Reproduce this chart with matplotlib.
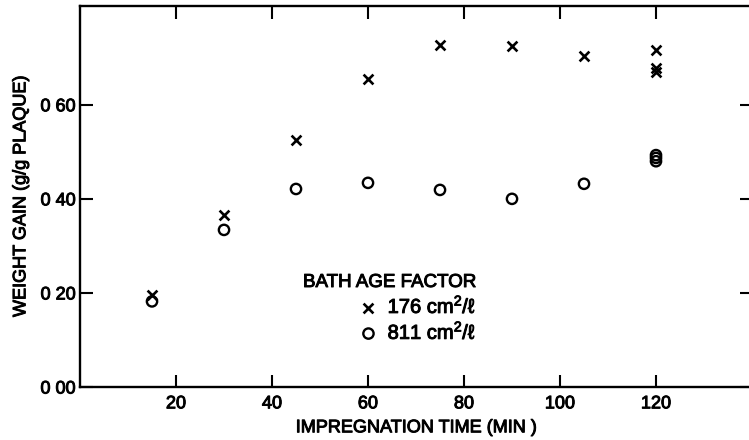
import matplotlib
matplotlib.use("Agg")
import matplotlib.pyplot as plt
import matplotlib.patheffects as pe

# Data
time_176 = [15, 30, 45, 60, 75, 90, 105, 120, 120, 120]
gain_176 = [0.195, 0.366, 0.526, 0.655, 0.728, 0.724, 0.703, 0.717, 0.679, 0.670]
time_811 = [15, 30, 45, 60, 75, 90, 105, 120, 120, 120]
gain_811 = [0.182, 0.334, 0.421, 0.434, 0.419, 0.400, 0.432, 0.493, 0.487, 0.480]

xticks = [20, 40, 60, 80, 100, 120]
yticks = [0.0, 0.2, 0.4, 0.6]
ytick_labels = ["0 00", "0 20", "0 40", "0 60"]

plt.rcParams['font.family'] = ['Liberation Sans', 'DejaVu Sans']
plt.rcParams['mathtext.fontset'] = 'custom'
plt.rcParams['mathtext.rm'] = 'Liberation Sans'
plt.rcParams['mathtext.it'] = 'Liberation Sans'

thick = [pe.withStroke(linewidth=0.7, foreground='black')]

fig = plt.figure(figsize=(7.49, 4.40), dpi=100)
ax = fig.add_axes([80/749, 1 - 387/440, 672/749, 381/440])

ax.scatter(time_176, gain_176, marker='x', s=50, c='black', linewidths=1.9,
           label='176 cm$^{2}$/ℓ', zorder=3)
ax.scatter(time_811, gain_811, marker='o', s=55, facecolors='none',
           edgecolors='black', linewidths=1.7, label='811 cm$^{2}$/ℓ', zorder=3)

ax.set_xlim(0, 140)
ax.set_ylim(0, 0.81)
ax.set_xticks(xticks)
ax.set_yticks(yticks)
ax.set_yticklabels(ytick_labels)

for s in ['left', 'bottom', 'top']:
    ax.spines[s].set_linewidth(1.7)
ax.spines['right'].set_visible(False)

ax.tick_params(axis='both', direction='in', length=9, width=1.5,
               top=True, right=True, labelsize=13)
ax.tick_params(axis='x', pad=6)
ax.tick_params(axis='y', pad=3)

ax.set_xlabel("IMPREGNATION TIME (MIN )", fontsize=13, labelpad=5)
ax.set_ylabel("WEIGHT GAIN (g/g PLAQUE)", fontsize=13, labelpad=8)

leg = ax.legend(title="BATH AGE FACTOR", loc='upper left',
                bbox_to_anchor=((303 - 80) / 672, (387 - 274) / 381),
                frameon=False, fontsize=14.5, title_fontsize=13.5,
                alignment='right', handletextpad=0.5, labelspacing=0.2,
                borderpad=0, handlelength=0.9, borderaxespad=0)

texts = (ax.get_xticklabels() + ax.get_yticklabels()
         + [ax.xaxis.label, ax.yaxis.label, leg.get_title()] + leg.get_texts())
for t in texts:
    t.set_path_effects(thick)

fig.savefig("out.png", dpi=100)
